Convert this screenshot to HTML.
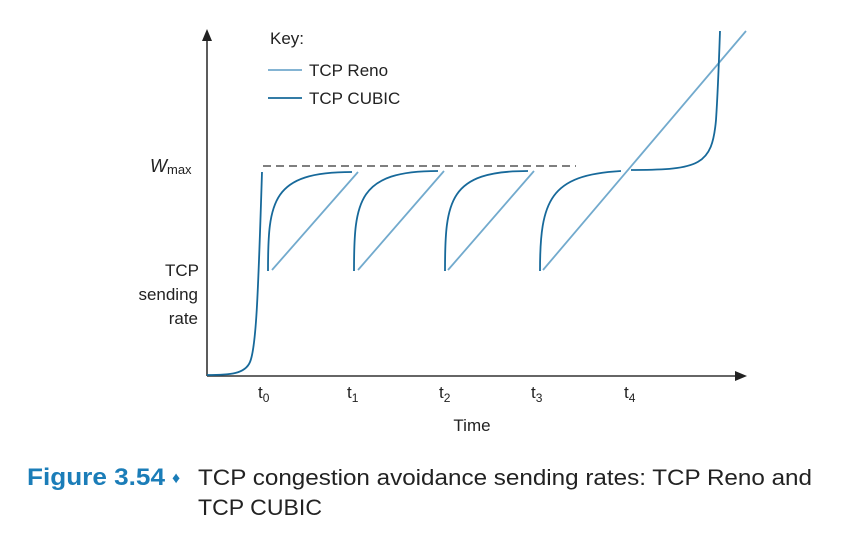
<!DOCTYPE html>
<html><head><style>
html,body{margin:0;padding:0;background:#fff;}
svg{display:block;}
text{font-family:"Liberation Sans",sans-serif;}
</style></head><body>
<svg width="849" height="552" viewBox="0 0 849 552" xmlns="http://www.w3.org/2000/svg">
<line x1="207" y1="376" x2="207" y2="40" stroke="#333" stroke-width="1.6"/>
<polygon points="207,29 202,41 212,41" fill="#222"/>
<line x1="207" y1="376" x2="736" y2="376" stroke="#333" stroke-width="1.6"/>
<polygon points="747,376 735,371 735,381" fill="#222"/>
<line x1="263" y1="166" x2="576" y2="166" stroke="#555" stroke-width="1.6" stroke-dasharray="8,5"/>
<g fill="none" stroke-width="1.8">
<path d="M207,375 C230,375 245,374 250,362 C256,348 258,300 262,172" stroke="#17699a"/>
<g stroke="#72aacd">
<line x1="272" y1="270" x2="358" y2="172"/>
<line x1="358" y1="270" x2="444" y2="171"/>
<line x1="448" y1="270" x2="534" y2="171"/>
<line x1="543" y1="270" x2="746" y2="31"/>
</g>
<g stroke="#17699a">
<path d="M268,271 C268,200 272,172 352,172"/>
<path d="M354,271 C354,200 358,171 438,171"/>
<path d="M445,271 C445,200 449,171 528,171"/>
<path d="M540,271 C540,200 550,175 621,171"/>
<path d="M631,170 C700,170 712,165 716,120 C718,90 719,60 720,31"/>
</g>
</g>
<text x="270" y="44" font-size="17" fill="#222">Key:</text>
<line x1="268" y1="70" x2="302" y2="70" stroke="#72aacd" stroke-width="1.8"/>
<text x="309" y="76" font-size="17" fill="#222">TCP Reno</text>
<line x1="268" y1="98" x2="302" y2="98" stroke="#17699a" stroke-width="1.8"/>
<text x="309" y="104" font-size="17" fill="#222">TCP CUBIC</text>
<text x="150" y="172" font-size="18" font-style="italic" fill="#222">W</text>
<text x="167" y="174" font-size="13" fill="#222">max</text>
<g font-size="17" fill="#222" text-anchor="end">
<text x="199" y="276">TCP</text>
<text x="198" y="300">sending</text>
<text x="198" y="324">rate</text>
</g>
<g font-size="17" fill="#222">
<text x="258" y="398">t<tspan font-size="12" dy="4">0</tspan></text>
<text x="347" y="398">t<tspan font-size="12" dy="4">1</tspan></text>
<text x="439" y="398">t<tspan font-size="12" dy="4">2</tspan></text>
<text x="531" y="398">t<tspan font-size="12" dy="4">3</tspan></text>
<text x="624" y="398">t<tspan font-size="12" dy="4">4</tspan></text>
<text x="472" y="431" text-anchor="middle">Time</text>
</g>
<text x="27" y="485" font-size="24" font-weight="bold" fill="#1b7db8" textLength="138" lengthAdjust="spacingAndGlyphs">Figure 3.54</text>
<text x="172" y="483" font-size="16" fill="#1b7db8">♦</text>
<text x="198" y="485" font-size="22" fill="#222" textLength="614" lengthAdjust="spacingAndGlyphs">TCP congestion avoidance sending rates: TCP Reno and</text>
<text x="198" y="515" font-size="22" fill="#222" textLength="124" lengthAdjust="spacingAndGlyphs">TCP CUBIC</text>
</svg>
</body></html>
